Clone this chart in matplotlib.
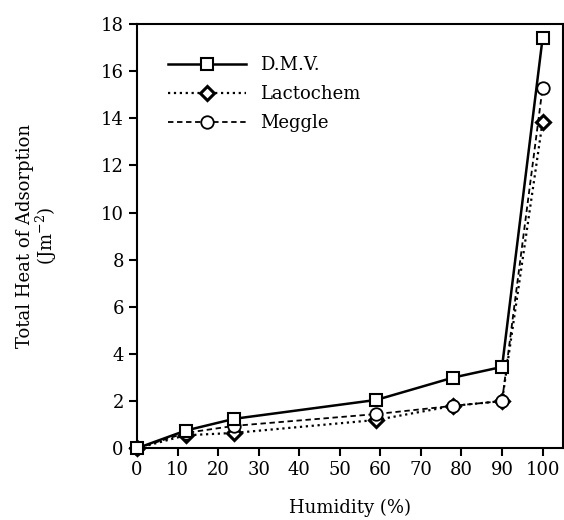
import matplotlib
matplotlib.use("Agg")
from matplotlib import pyplot as plt

plt.rcParams['font.family'] = ['DejaVu Serif']

humidity = [0, 12, 24, 59, 78, 90, 100]
dmv = [0, 0.75, 1.25, 2.05, 3.0, 3.45, 17.4]
lactochem = [0, 0.55, 0.65, 1.2, 1.8, 2.0, 13.85]
meggle = [0, 0.65, 0.95, 1.45, 1.8, 2.0, 15.3]

fig = plt.figure(figsize=(5.64, 5.2), dpi=100)
ax = fig.add_axes([0.243, 0.138, 0.755, 0.816])

ax.plot(humidity, dmv, color='black', lw=1.8, ls='-', marker='s', ms=9,
        mfc='white', mec='black', mew=1.5, label='D.M.V.', clip_on=False, zorder=3)
ax.plot(humidity, lactochem, color='black', lw=1.6, ls=':', marker='D', ms=7,
        mfc='white', mec='black', mew=2.2, label='Lactochem', clip_on=False, zorder=2)
ax.plot(humidity, meggle, color='black', lw=1.3, ls=(0, (3, 2)), marker='o', ms=9,
        mfc='white', mec='black', mew=1.3, label='Meggle', clip_on=False, zorder=2)

ax.set_xlim(0, 105)
ax.set_ylim(0, 18)
ax.set_xticks(range(0, 101, 10))
ax.set_yticks(range(0, 19, 2))
ax.tick_params(direction='out', length=6, width=1.5, labelsize=13)
for s in ax.spines.values():
    s.set_linewidth(1.5)

ax.set_xlabel('Humidity (%)', fontsize=13, labelpad=14)
ax.set_ylabel('Total Heat of Adsorption\n(Jm$^{\\mathregular{-2}}$)', fontsize=13, labelpad=30,
              linespacing=1.0)

ax.legend(loc='upper left', bbox_to_anchor=(0.035, 0.962), frameon=False, fontsize=13,
          handlelength=4.3, labelspacing=0.6, handletextpad=0.8)

fig.savefig('out.png', dpi=100)
